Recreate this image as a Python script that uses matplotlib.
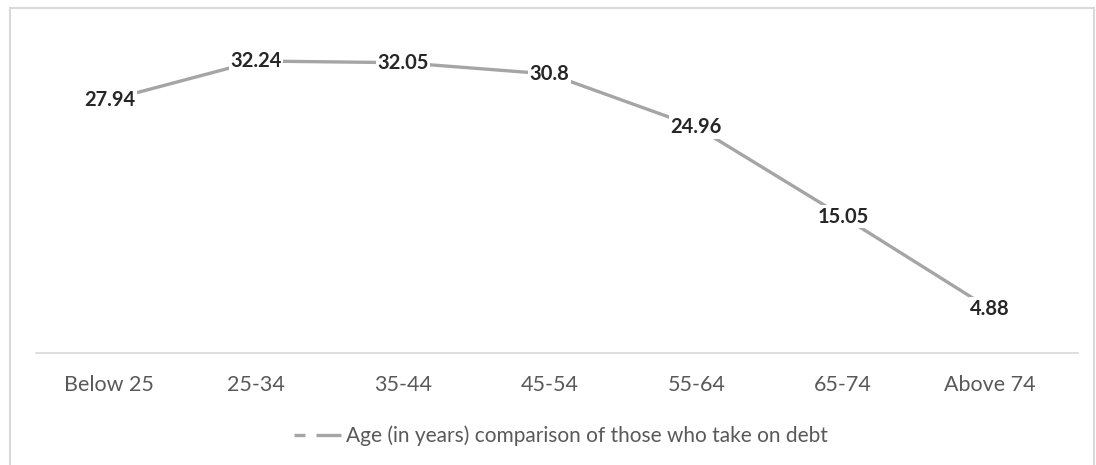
import matplotlib.pyplot as plt
from matplotlib.patches import Rectangle
from matplotlib.lines import Line2D

# age groups and share taking on debt
ageGroups = ['Below 25', '25-34', '35-44', '45-54', '55-64', '65-74', 'Above 74']
debtShare = [27.94, 32.24, 32.05, 30.8, 24.96, 15.05, 4.88]
legendText = 'Age (in years) comparison of those who take on debt'

plt.rcParams['font.family'] = ['Lato', 'DejaVu Sans']

fig = plt.figure(figsize=(10.96, 4.65), dpi=100)
fig.patch.set_facecolor('white')

# outer chart frame
fig.patches.append(Rectangle((10 / 1096, -0.05), 1084 / 1096, 1.05 - 8 / 465,
                             transform=fig.transFigure, fill=False,
                             edgecolor='#d9d9d9', linewidth=1.5))

ax = fig.add_axes([36 / 1096, (465 - 353) / 465, 1042 / 1096, (353 - 36) / 465])
x = list(range(len(ageGroups)))
ax.plot(x, debtShare, color='#a5a5a5', linewidth=2.4, solid_capstyle='round')
for xi, v in zip(x, debtShare):
    ax.text(xi, v, f'{v:g}', ha='center', va='center', fontsize=14.5,
            fontweight='bold', color='#262626',
            bbox=dict(boxstyle='square,pad=0.08', facecolor='white', edgecolor='none'))

ax.set_xlim(-0.5, len(ageGroups) - 0.4)
ax.set_ylim(0, 35)
ax.set_xticks(x)
ax.set_xticklabels(ageGroups, fontsize=15.5, color='#595959')
ax.set_yticks([])
ax.tick_params(axis='x', length=0, pad=16)
for side in ['top', 'right', 'left']:
    ax.spines[side].set_visible(False)
ax.spines['bottom'].set_color('#d9d9d9')
ax.spines['bottom'].set_linewidth(1.2)

handle = Line2D([0], [0], color='#a5a5a5', linewidth=2.4,
                linestyle=(0, (3.3, 3.3, 7.5, 3.3)))
fig.legend([handle], [legendText], loc='center', bbox_to_anchor=(561 / 1096, 1 - 436 / 465),
           frameon=False, fontsize=15, labelcolor='#595959', handlelength=2.4,
           handletextpad=0.1)

fig.savefig('out.png', dpi=100)
